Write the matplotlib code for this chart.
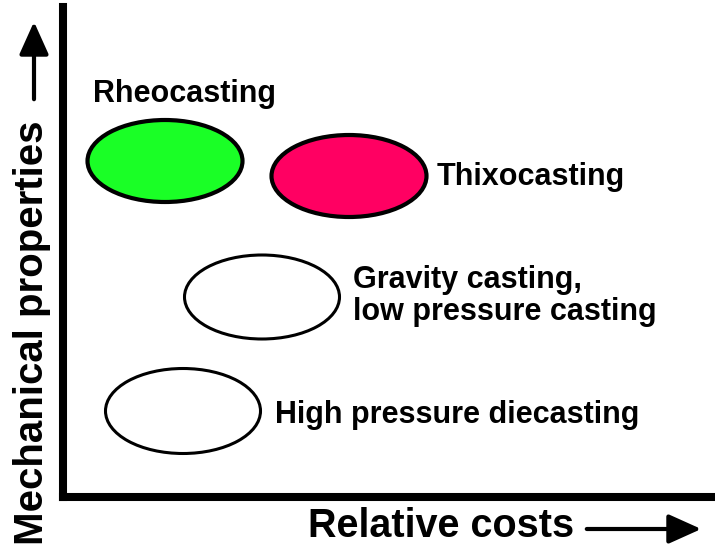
import matplotlib
matplotlib.use("Agg")
import matplotlib.pyplot as plt
from matplotlib.patches import Ellipse, FancyArrowPatch

plt.rcParams['font.family'] = ['Liberation Sans', 'DejaVu Sans']

# processes: centre (cost, property), size of the blob, fill colour
processes = ["Rheocasting", "Thixocasting", "Gravity casting,\nlow pressure casting", "High pressure diecasting"]
cost = [102, 286, 199, 120]
props = [336, 321, 200, 86]
blob_w = [155, 155, 155, 155]
blob_h = [82, 82, 84, 85]
fills = ["#1aff26", "#ff0062", "white", "white"]
edge_lw = [3.0, 3.0, 2.2, 2.2]

# label anchors (left, baseline of first line)
label_x = [30, 374, 290, 212]
label_y = [395, 312, 209, 74]

W, H = 715, 558
fig = plt.figure(figsize=(W / 100, H / 100), dpi=100)
ax = fig.add_axes([63 / W, (H - 497) / H, (W - 63) / W, (497 - 7) / H])
ax.set_xlim(0, 652)
ax.set_ylim(0, 490)
ax.set_xticks([])
ax.set_yticks([])
for s in ["top", "right"]:
    ax.spines[s].set_visible(False)
for s in ["left", "bottom"]:
    ax.spines[s].set_linewidth(5.8)
    ax.spines[s].set_capstyle("projecting")

for i in range(len(processes)):
    e = Ellipse((cost[i], props[i]), blob_w[i], blob_h[i], facecolor=fills[i],
                edgecolor="black", lw=edge_lw[i], clip_on=False)
    ax.add_patch(e)
    lines = processes[i].split("\n")
    for k, line in enumerate(lines):
        ax.text(label_x[i], label_y[i] - 32 * k, line, fontsize=22, fontweight="bold",
                ha="left", va="baseline")

# axis titles with arrows
fig.text(308 / W, (H - 537) / H, "Relative costs", fontsize=28.5, fontweight="bold",
         ha="left", va="baseline")
fig.text(43 / W, (H - 545) / H, "Mechanical properties", fontsize=29, fontweight="bold",
         rotation=90, rotation_mode="anchor", ha="left", va="baseline")

arr_x = FancyArrowPatch((584 / W, (H - 529) / H), (704 / W, (H - 529) / H),
                        transform=fig.transFigure, arrowstyle="-|>,head_length=1.0,head_width=0.45",
                        mutation_scale=20, lw=3, color="black")
arr_y = FancyArrowPatch((34 / W, (H - 102) / H), (34 / W, (H - 19) / H),
                        transform=fig.transFigure, arrowstyle="-|>,head_length=1.0,head_width=0.45",
                        mutation_scale=20, lw=3, color="black")
fig.patches.extend([arr_x, arr_y])

fig.savefig("out.png", dpi=100)
